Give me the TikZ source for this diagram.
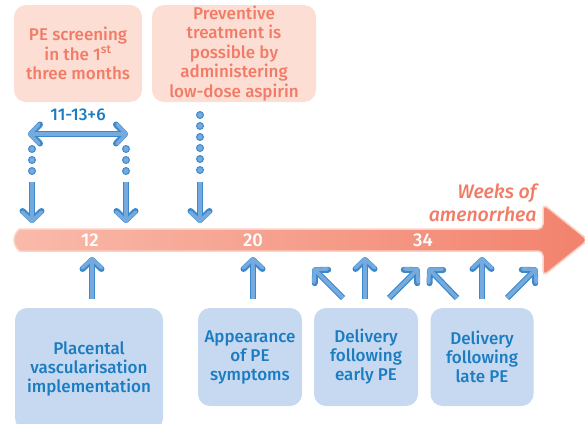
\documentclass[tikz,border=0pt]{standalone}
\usepackage{fontspec}
\setmainfont{Fira Sans}[UprightFont={* Medium}, ItalicFont={* Medium Italic}]
\usetikzlibrary{arrows.meta}
\definecolor{peach}{HTML}{FDDED4}
\definecolor{salmon}{HTML}{F27B66}
\definecolor{paleblue}{HTML}{C6D9F0}
\definecolor{deepblue}{HTML}{1B7CC2}
\definecolor{arrowfill}{HTML}{74AADD}
\definecolor{arrowedge}{HTML}{3D88CB}
\definecolor{barleft}{HTML}{F9BAAA}
\definecolor{barright}{HTML}{F2826D}
\definecolor{baredge}{HTML}{FBD0C5}
\tikzset{
  topbox/.style={rounded corners=12pt, fill=peach, text=salmon, align=center, inner sep=0pt, font=\fontsize{17}{19.5}\selectfont},
  botbox/.style={rounded corners=12pt, fill=paleblue, text=deepblue, align=center, inner sep=0pt, font=\fontsize{17}{19}\selectfont},
  fat/.style={line width=6pt, draw=arrowedge, -{Straight Barb[length=9pt,width=19pt,round]},
    postaction={draw=arrowfill, line width=3.6pt, -{Straight Barb[length=9pt,width=19pt,round]}}},
  fatboth/.style={line width=6pt, draw=arrowedge, {Straight Barb[length=9pt,width=19pt,round]}-{Straight Barb[length=9pt,width=19pt,round]},
    postaction={draw=arrowfill, line width=3.6pt, {Straight Barb[length=9pt,width=19pt,round]}-{Straight Barb[length=9pt,width=19pt,round]}}},
  dots/.style={line width=8pt, draw=arrowedge, line cap=round, dash pattern=on 0pt off 11pt,
    postaction={draw=arrowfill, line width=5.6pt, line cap=round, dash pattern=on 0pt off 11pt}},
  week/.style={text=white, font=\fontsize{18.5}{18.5}\selectfont}
}
\begin{document}
\begin{tikzpicture}[x=1pt,y=-1pt]
  \useasboundingbox (0,0) rectangle (585,423);

  % top boxes
  \node[topbox, minimum width=128pt, minimum height=97pt] (screen) at (78,53.5) {PE screening\\in the 1\textsuperscript{st}\\three months};
  \node[topbox, minimum width=164pt, minimum height=97pt] (aspirin) at (234,53.5) {Preventive\\treatment is\\possible by\\administering\\low-dose aspirin};

  % time axis
  \path[draw=baredge, line width=1.5pt, left color=barleft, right color=barright, rounded corners=5pt]
    (25,251) arc[start angle=90, end angle=270, radius=11] -- (543,229) -- (543,204) -- (588,240) -- (543,276) -- (543,251) -- cycle;
  \node[week] (w12) at (90,240) {12};
  \node[week] (w20) at (253,240) {20};
  \node[week] (w34) at (423,240) {34};
  \node[text=salmon, align=right, anchor=east, font=\fontsize{19.5}{23.5}\itshape] (unit) at (540,203) {Weeks of\\amenorrhea};

  % bottom boxes
  \node[botbox, minimum width=148pt, minimum height=122pt] (plac) at (89,369) {Placental\\vascularisation\\implementation};
  \node[botbox, minimum width=104pt, minimum height=98pt] (symp) at (250,357) {Appearance\\of PE\\symptoms};
  \node[botbox, minimum width=104pt, minimum height=98pt] (early) at (366,357) {Delivery\\following\\early PE};
  \node[botbox, minimum width=103pt, minimum height=98pt] (late) at (482,357) {Delivery\\following\\late PE};

  % screening window
  \node[text=deepblue, font=\fontsize{17}{17}\selectfont] (win) at (78,115) {11-13+6};
  \coordinate (wl) at (28,134);
  \coordinate (wr) at (128,134);
  \draw[fatboth] (wl) -- (wr);
  \coordinate (l1) at (32,149);  \coordinate (l2) at (32,171.5);
  \coordinate (r1) at (126,149); \coordinate (r2) at (126,171.5);
  \coordinate (m1) at (200,115); \coordinate (m2) at (200,171.5);
  \draw[dots] (l1) -- (l2);
  \draw[dots] (r1) -- (r2);
  \draw[dots] (m1) -- (m2);
  \coordinate (la) at (32,182);  \coordinate (lb) at (32,223);
  \coordinate (ra) at (126,182); \coordinate (rb) at (126,223);
  \coordinate (ma) at (200,182); \coordinate (mb) at (200,223);
  \draw[fat] (la) -- (lb);
  \draw[fat] (ra) -- (rb);
  \draw[fat] (ma) -- (mb);

  % arrows from below
  \draw[fat] (92,299) -- (92,257);
  \draw[fat] (253,299) -- (253,257);
  \draw[fat] (343,298) -- (313,268);
  \draw[fat] (365,299) -- (365,257);
  \draw[fat] (389,298) -- (419,268);
  \draw[fat] (457,298) -- (428,268);
  \draw[fat] (482,299) -- (482,257);
  \draw[fat] (507,298) -- (537,268);
\end{tikzpicture}
\end{document}
